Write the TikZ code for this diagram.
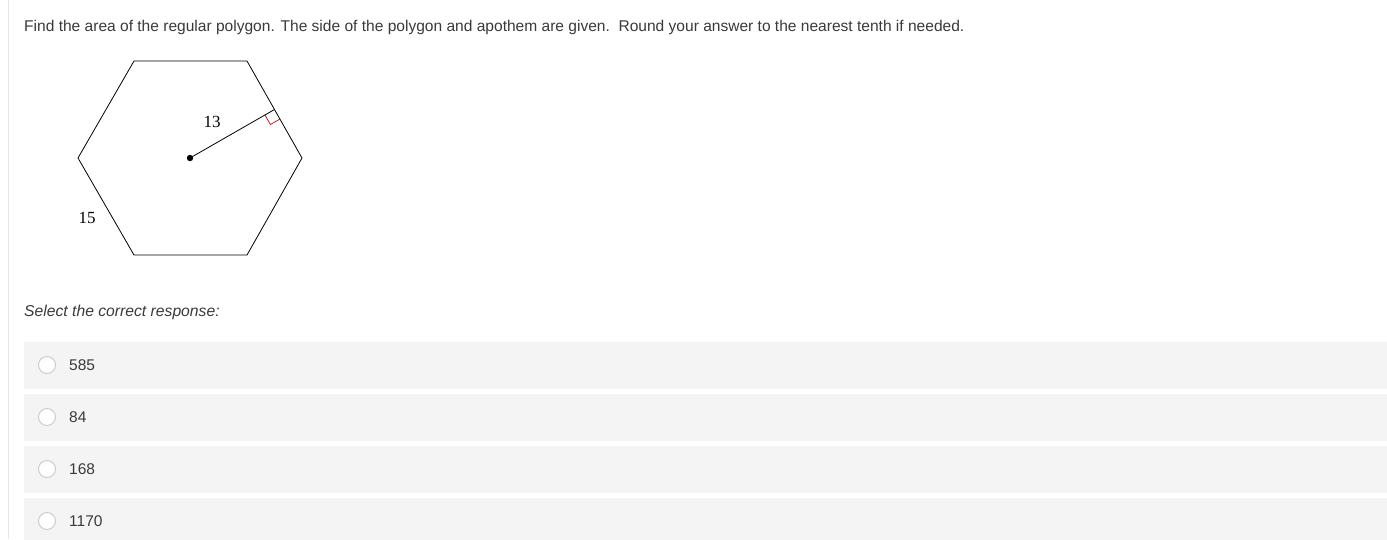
\documentclass[tikz,border=0pt]{standalone}
\usepackage{fontspec}
\usetikzlibrary{calc}
\setmainfont{Liberation Sans}
\newfontfamily\serifnum{Liberation Serif}
\definecolor{txt}{HTML}{3A3A3A}
\definecolor{optbg}{HTML}{F4F4F4}
\definecolor{radio}{HTML}{CCCCCC}
\definecolor{sideline}{HTML}{E6E6E6}
\tikzset{
  optbox/.style={fill=optbg, draw=none},
  radiobtn/.style={circle, draw=radio, fill=white, line width=1pt, minimum size=17pt, inner sep=0pt},
  opttext/.style={anchor=west, text=txt, font=\fontsize{15.5}{18}\selectfont, inner sep=0pt},
  hexline/.style={line width=0.8pt, black},
  numlabel/.style={font=\serifnum\fontsize{17}{20}\selectfont, inner sep=0pt}
}
\begin{document}
\begin{tikzpicture}[x=1pt,y=-1pt]
\useasboundingbox (0,0) rectangle (1387,539);
\fill[white] (0,0) rectangle (1387,539);
\draw[sideline, line width=1pt] (8,0) -- (8,539);
\node[anchor=base west, text=txt, font=\fontsize{15.55}{18}\selectfont, inner sep=0pt] (q) at (24,31) {Find the area of the regular polygon. The side of the polygon and apothem are given.\ \ Round your answer to the nearest tenth if needed.};
% hexagon
\coordinate (A) at (134,61);
\coordinate (B) at (247,61);
\coordinate (C) at (302,158);
\coordinate (D) at (247,255);
\coordinate (E) at (134,255);
\coordinate (F) at (78,158);
\coordinate (O) at (190,158);
\coordinate (M) at ($(B)!0.5!(C)$);
\coordinate (P1) at ($(M)!11pt!(O)$);
\coordinate (P2) at ($(M)!11pt!(C)$);
\coordinate (P3) at ($(P1)+(P2)-(M)$);
\draw[hexline] (A) -- (B) -- (C) -- (D) -- (E) -- (F) -- cycle;
\draw[line width=0.8pt] (O) -- (M);
\fill (O) circle (3.2pt);
\draw[red!80!black, line width=0.7pt] (P1) -- (P3) -- (P2);
\node[numlabel] (l13) at (212,122) {13};
\node[numlabel] (l15) at (87,218) {15};
\node[anchor=base west, text=txt, font=\itshape\fontsize{15.7}{18}\selectfont, inner sep=0pt] (sel) at (24,316) {Select the correct response:};
% options
\foreach \y/\t [count=\i] in {342/585, 394/84, 446/168, 498/1170} {
  \fill[optbg] (24,\y) rectangle (1387,\y+47);
  \node[radiobtn] (r\i) at (47,\y+23) {};
  \node[opttext] (o\i) at (69,\y+23) {\t};
}
\end{tikzpicture}
\end{document}
